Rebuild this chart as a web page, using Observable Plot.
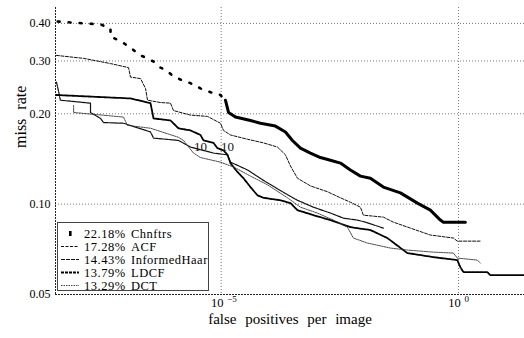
<!DOCTYPE html>
<html><head><meta charset="utf-8">
<script src="https://cdn.jsdelivr.net/npm/d3@7"></script>
<script src="https://cdn.jsdelivr.net/npm/@observablehq/plot@0.6"></script>
<style>
html,body{margin:0;padding:0;background:#fff;}
#wrap{position:relative;width:524px;height:338px;overflow:hidden;font-family:"Liberation Serif",serif;}
#legend{position:absolute;left:57px;top:222px;}
</style></head><body><div id="wrap"></div>
<script>
// ---- data ----
const methods = ["Chnftrs", "ACF", "InformedHaar", "LDCF", "DCT"];
const rates = [22.18, 17.28, 14.43, 13.79, 13.29];

const chnFppi = [3.6e-9, 6.7e-9, 1.39e-8, 2.88e-8, 4.67e-8, 4.67e-8, 8.35e-8, 1.29e-7, 2.0e-7, 2.81e-7, 4.14e-7, 5.27e-7, 7.05e-7, 9.44e-7, 1.39e-6, 2.26e-6, 3.66e-6, 5.96e-6, 9.67e-6, 1.23e-5, 1.43e-5, 2.0e-5, 4.14e-5, 6.72e-5, 1.39e-4, 2.26e-4, 3.17e-4, 4.67e-4, 7.59e-4, 1.23e-3, 2.0e-3, 3.25e-3, 5.27e-3, 8.57e-3, 1.39e-2, 2.61e-2, 5.96e-2, 0.136, 0.255, 0.414, 0.479, 1.39];
const chnMr = [0.406, 0.403, 0.400, 0.397, 0.385, 0.362, 0.346, 0.330, 0.313, 0.306, 0.296, 0.285, 0.279, 0.268, 0.260, 0.253, 0.243, 0.236, 0.231, 0.222, 0.202, 0.195, 0.190, 0.186, 0.182, 0.174, 0.163, 0.1536, 0.148, 0.143, 0.140, 0.137, 0.130, 0.124, 0.122, 0.114, 0.109, 0.1008, 0.0955, 0.0885, 0.0871, 0.0871];

const acfFppi = [3.4e-9, 1.26e-8, 4.67e-8, 1.12e-7, 1.23e-7, 2.0e-7, 2.55e-7, 2.81e-7, 5.27e-7, 8.57e-7, 9.9e-7, 2.26e-6, 5.15e-6, 9.67e-6, 1.12e-5, 1.57e-5, 3.58e-5, 7.78e-5, 1.53e-4, 2.26e-4, 2.88e-4, 4.04e-4, 7.59e-4, 1.73e-3, 3.25e-3, 5.27e-3, 8.57e-3, 9.9e-3, 2.61e-2, 4.24e-2, 9.67e-2, 0.255, 0.778, 0.944, 2.88];
const acfMr = [0.313, 0.306, 0.294, 0.285, 0.265, 0.262, 0.243, 0.222, 0.218, 0.217, 0.205, 0.198, 0.196, 0.186, 0.176, 0.170, 0.1645, 0.160, 0.155, 0.146, 0.134, 0.122, 0.115, 0.110, 0.105, 0.1015, 0.0977, 0.0919, 0.0905, 0.0871, 0.0832, 0.0789, 0.0771, 0.0753, 0.0753];

const ihFppi = [3.4e-9, 3.8e-9, 4.1e-9, 1.77e-8, 1.77e-8, 2.88e-8, 3.33e-8, 8.77e-8, 3.25e-7, 3.76e-7, 1.26e-6, 2.26e-6, 6.88e-6, 1.36e-5, 1.57e-5, 3.58e-5, 7.78e-5, 1.77e-4, 4.04e-4, 8.77e-4, 2.0e-3, 3.76e-3, 7.4e-3, 1.09e-2, 2.61e-2];
const ihMr = [0.255, 0.236, 0.222, 0.217, 0.202, 0.193, 0.187, 0.186, 0.174, 0.166, 0.163, 0.155, 0.148, 0.146, 0.138, 0.130, 0.120, 0.111, 0.103, 0.0977, 0.0934, 0.0898, 0.0885, 0.0871, 0.0832];

const ldcfFppi = [3.4e-9, 1.23e-7, 3.25e-7, 3.76e-7, 8.57e-7, 1.26e-6, 2.26e-6, 3.66e-6, 4.24e-6, 6.88e-6, 8.36e-6, 1.12e-5, 1.36e-5, 1.57e-5, 2.2e-5, 2.95e-5, 4.14e-5, 5.81e-5, 7.78e-5, 1.77e-4, 2.88e-4, 4.04e-4, 8.77e-4, 2.0e-3, 5.27e-3, 1.39e-2, 3.17e-2, 8.36e-2, 0.295, 0.944, 1.09, 1.26, 4.04, 4.67, 24.3];
const ldcfMr = [0.231, 0.225, 0.217, 0.193, 0.190, 0.179, 0.176, 0.170, 0.163, 0.160, 0.1536, 0.151, 0.146, 0.137, 0.128, 0.122, 0.114, 0.107, 0.105, 0.103, 0.1008, 0.0955, 0.0919, 0.0885, 0.0838, 0.0820, 0.0771, 0.0687, 0.0666, 0.0651, 0.0617, 0.0594, 0.0594, 0.0580, 0.0580];

const dctFppi = [7.8e-9, 7.8e-9, 8.77e-8, 1.06e-7, 3.25e-7, 1.26e-6, 1.61e-6, 2.61e-6, 3.66e-6, 9.67e-6, 1.82e-5, 4.14e-5, 9.44e-5, 2.49e-4, 4.67e-4, 1.06e-3, 2.31e-3, 4.56e-3, 6.1e-3, 1.2e-2, 3.66e-2, 8.36e-2, 0.295, 0.778, 0.944, 2.49, 2.88];
const dctMr = [0.213, 0.202, 0.195, 0.183, 0.179, 0.167, 0.163, 0.148, 0.143, 0.138, 0.133, 0.124, 0.116, 0.105, 0.0977, 0.0934, 0.0885, 0.0838, 0.0771, 0.0742, 0.0714, 0.0703, 0.0692, 0.0687, 0.0661, 0.0651, 0.0636];

const yTicks = [0.05, 0.10, 0.20, 0.30, 0.40];
const xTicks = [1e-5, 1];
const xTickExps = ["\u22125", "0"];
const noteFppi = [3.66e-6, 1.36e-5];
const noteMr = [0.155, 0.155];
const noteText = ["10", "10"];

// ---- layout / style ----
const xDomain = [3.24e-9, 24.5];
const yDomain = [0.05, 0.452];
const rows = (f, m) => f.map((v, i) => ({f: v, m: m[i]}));
const chn = rows(chnFppi, chnMr);
const styles = {
  ACF: {stroke: "#111", strokeWidth: 1, strokeDasharray: "3,1.5"},
  InformedHaar: {stroke: "#111", strokeWidth: 1.2, strokeDasharray: "4,1"},
  LDCF: {stroke: "#000", strokeWidth: 1.8, strokeDasharray: "3,1"},
  DCT: {stroke: "#333", strokeWidth: 0.9, strokeDasharray: "1.5,1"}
};
const series = [
  ["ACF", rows(acfFppi, acfMr)],
  ["InformedHaar", rows(ihFppi, ihMr)],
  ["LDCF", rows(ldcfFppi, ldcfMr)],
  ["DCT", rows(dctFppi, dctMr)]
];

const plot = Plot.plot({
  width: 524, height: 338,
  marginLeft: 55, marginRight: 0, marginTop: 7, marginBottom: 44,
  x: {type: "log", domain: xDomain, axis: null},
  y: {type: "log", domain: yDomain, axis: null},
  style: {fontFamily: "'Liberation Serif', serif", fontSize: "12px", background: "white", color: "black", overflow: "visible"},
  marks: [
    Plot.gridY(yTicks.slice(1), {stroke: "#777", strokeOpacity: 1, strokeDasharray: "1,2"}),
    Plot.gridX(xTicks, {stroke: "#777", strokeOpacity: 1, strokeDasharray: "1,2"}),
    Plot.ruleX([xDomain[0]], {stroke: "#222", strokeDasharray: "2,1"}),
    Plot.ruleY([yDomain[0]], {stroke: "#222", strokeDasharray: "2,1"}),
    ...series.map(([name, data]) => Plot.line(data, {x: "f", y: "m", clip: true, ...styles[name]})),
    Plot.line(chn.filter(d => d.f <= 1.23e-5), {x: "f", y: "m", stroke: "#000", strokeWidth: 2.6, strokeDasharray: "2,9", clip: true}),
    Plot.line(chn.filter(d => d.f >= 1.23e-5), {x: "f", y: "m", stroke: "#000", strokeWidth: 3, clip: true}),
    Plot.text(noteFppi.map((f, i) => ({f, m: noteMr[i], t: noteText[i]})), {x: "f", y: "m", text: "t", fontSize: 13, fill: "#111"}),
    Plot.axisY(yTicks, {tickSize: 0, tickPadding: 5, tickFormat: d3.format(".2f"), label: null, fontSize: 12}),
    Plot.text(xTicks, {x: d => d, frameAnchor: "bottom", text: () => "10", dy: 12, dx: -4, fontSize: 12.5}),
    Plot.text(xTicks.map((d, i) => ({d, e: xTickExps[i]})), {x: "d", text: "e", frameAnchor: "bottom", dy: 7, dx: 6, textAnchor: "start", fontSize: 9}),
    Plot.text(["false positives per image"], {frameAnchor: "bottom", dy: 29, fontSize: 15}),
    Plot.text(["miss rate"], {frameAnchor: "left", dx: -35, dy: -3, rotate: -90, fontSize: 16})
  ]
});
const wrap = document.getElementById("wrap");
wrap.appendChild(plot);
plot.querySelectorAll("text").forEach(t => {
  if (t.textContent === "false positives per image" || t.textContent === "miss rate") t.style.wordSpacing = "5px";
});

// ---- legend ----
const lg = d3.create("svg").attr("id", "legend").attr("width", 153).attr("height", 70)
  .style("font-family", "'Liberation Serif', serif");
lg.append("rect").attr("x", 0.5).attr("y", 0.5).attr("width", 151).attr("height", 68)
  .attr("fill", "white").attr("stroke", "#444");
methods.forEach((name, i) => {
  const y = 11.5 + i * 13;
  if (name === "Chnftrs") {
    lg.append("rect").attr("x", 12).attr("y", y - 2.5).attr("width", 2.6).attr("height", 5).attr("fill", "#000");
  } else {
    const s = styles[name];
    lg.append("line").attr("x1", 4).attr("x2", 22).attr("y1", y).attr("y2", y)
      .attr("stroke", s.stroke).attr("stroke-width", s.strokeWidth).attr("stroke-dasharray", s.strokeDasharray);
  }
  lg.append("text").attr("x", 27).attr("y", y).attr("dy", "0.35em").attr("font-size", 12.5).attr("letter-spacing", 0.5).text(rates[i].toFixed(2) + "%");
  lg.append("text").attr("x", 74).attr("y", y).attr("dy", "0.35em").attr("font-size", 12.5).attr("letter-spacing", 0.5).text(name);
});
wrap.appendChild(lg.node());
</script></body></html>
